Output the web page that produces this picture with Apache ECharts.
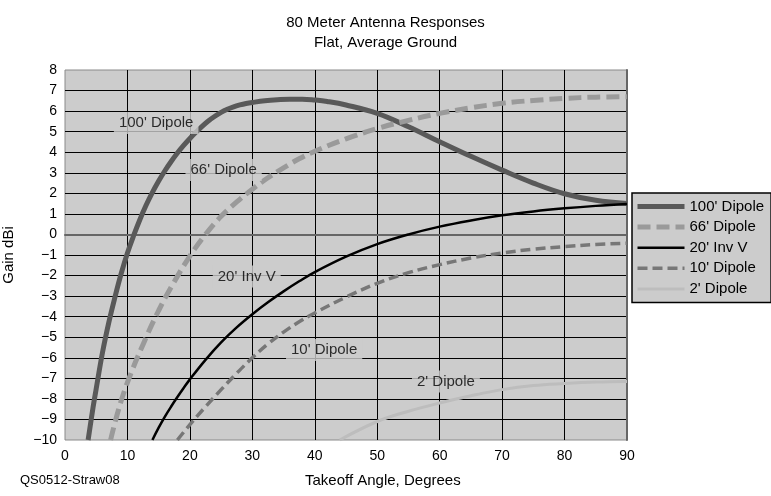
<!DOCTYPE html>
<html>
<head>
<meta charset="utf-8">
<script src="https://cdn.jsdelivr.net/npm/echarts@6/dist/echarts.min.js"></script>
<style>
  html, body { margin: 0; padding: 0; background: #ffffff; }
  #chart { width: 771px; height: 496px; }
</style>
</head>
<body>
<div id="chart"></div>
<script>
// Takeoff angle (degrees) and gain (dBi) for each antenna
const angles100 = [3.7, 4, 4.5, 5, 6, 7, 8, 9, 10, 11, 12, 13, 14, 15, 16, 17, 18, 19, 20, 21, 22, 23, 24, 25, 26, 27, 28, 29, 30, 32, 34, 36, 38, 40, 42, 45, 50, 55, 60, 65, 70, 75, 80, 85, 90];
const gain100   = [-10, -9.4, -8.4, -7.5, -5.75, -4.3, -3.05, -1.9, -0.9, -0.05, 0.73, 1.43, 2.05, 2.6, 3.1, 3.55, 3.96, 4.33, 4.67, 4.98, 5.27, 5.53, 5.75, 5.94, 6.09, 6.21, 6.3, 6.37, 6.42, 6.5, 6.55, 6.58, 6.58, 6.54, 6.47, 6.3, 5.89, 5.24, 4.51, 3.8, 3.13, 2.5, 1.98, 1.66, 1.51];

const angles66 = [7.3, 8.5, 10, 12.5, 15, 17.5, 20, 22.5, 25, 27.5, 30, 32.5, 35, 37.5, 40, 45, 50, 55, 60, 65, 70, 75, 80, 85, 90];
const gain66   = [-10, -8.6, -7.2, -5.35, -3.7, -2.3, -1.05, 0.0, 0.88, 1.58, 2.2, 2.76, 3.24, 3.68, 4.05, 4.65, 5.15, 5.55, 5.89, 6.16, 6.38, 6.52, 6.62, 6.68, 6.7];

const anglesInvV = [14, 15, 16, 17, 18, 19, 20, 22.5, 25, 27.5, 30, 32.5, 35, 37.5, 40, 45, 50, 55, 60, 65, 70, 75, 80, 85, 90];
const gainInvV   = [-10, -9.4, -8.86, -8.37, -7.91, -7.47, -7.05, -6.1, -5.25, -4.52, -3.88, -3.3, -2.77, -2.28, -1.83, -1.08, -0.47, 0.0, 0.38, 0.68, 0.93, 1.12, 1.27, 1.39, 1.48];

const angles10 = [18, 20, 22.5, 25, 27.5, 30, 32.5, 35, 37.5, 40, 45, 50, 55, 60, 65, 70, 75, 80, 85, 90];
const gain10   = [-10, -9.25, -8.38, -7.55, -6.75, -6.0, -5.33, -4.75, -4.25, -3.82, -3.05, -2.38, -1.86, -1.47, -1.15, -0.9, -0.72, -0.59, -0.49, -0.43];

const angles2 = [44, 50, 55, 60, 65, 70, 75, 80, 85, 90];
const gain2   = [-10, -9.1, -8.6, -8.2, -7.85, -7.55, -7.35, -7.25, -7.18, -7.15];

const seriesNames = ["100' Dipole", "66' Dipole", "20' Inv V", "10' Dipole", "2' Dipole"];

// Tick values for both axes
const xTicks = [0, 10, 20, 30, 40, 50, 60, 70, 80, 90];
const yTicks = [-10, -9, -8, -7, -6, -5, -4, -3, -2, -1, 0, 1, 2, 3, 4, 5, 6, 7, 8];

// Callout names drawn inside the plot, anchored in data coordinates
const calloutNames  = ["100' Dipole", "66' Dipole", "20' Inv V", "10' Dipole", "2' Dipole"];
const calloutAngles = [14.6, 25.4, 29.1, 41.5, 61.0];
const calloutGains  = [5.42, 3.14, -2.05, -5.62, -7.16];

const FONT = "'Liberation Sans', Arial, sans-serif";
const PLOT_BG = '#cccccc';

function pairs(xs, ys) {
  return xs.map((x, i) => [x, ys[i]]);
}

const styles = [
  { color: '#595959', width: 5, type: 'solid' },
  { color: '#9a9a9a', width: 5, type: [13, 6] },
  { color: '#000000', width: 2.5, type: 'solid' },
  { color: '#777777', width: 3.5, type: [10, 5] },
  { color: '#bdbdbd', width: 3, type: 'solid' }
];
const seriesData = [
  pairs(angles100, gain100),
  pairs(angles66, gain66),
  pairs(anglesInvV, gainInvV),
  pairs(angles10, gain10),
  pairs(angles2, gain2)
];

const chart = echarts.init(document.getElementById('chart'), null, { renderer: 'canvas' });

const lineSeries = seriesNames.map((name, i) => ({
  name: name,
  type: 'line',
  data: seriesData[i],
  symbol: 'none',
  smooth: 0.4,
  clip: true,
  z: 3,
  lineStyle: { color: styles[i].color, width: styles[i].width, type: styles[i].type, cap: 'butt' },
  itemStyle: { color: styles[i].color }
}));

const calloutSeries = {
  name: 'callouts',
  type: 'scatter',
  silent: true,
  symbolSize: 0,
  z: 5,
  data: calloutNames.map((n, i) => ({ name: n, value: [calloutAngles[i], calloutGains[i]] })),
  label: {
    show: true,
    position: 'inside',
    formatter: '{b}',
    fontFamily: FONT,
    fontSize: 15,
    color: '#000000',
    backgroundColor: PLOT_BG,
    padding: [3, 5],
    lineHeight: 16
  }
};

chart.setOption({
  animation: false,
  backgroundColor: '#ffffff',
  textStyle: { fontFamily: FONT },
  title: {
    text: '80 Meter Antenna Responses\nFlat, Average Ground',
    left: 'center',
    top: 8,
    textStyle: { fontFamily: FONT, fontSize: 15, fontWeight: 'normal', color: '#000', lineHeight: 20 }
  },
  grid: {
    left: 65, right: 144, top: 70, bottom: 56,
    outerBoundsMode: 'none',
    containLabel: false,
    show: true,
    backgroundColor: PLOT_BG,
    borderColor: '#8a8a8a',
    borderWidth: 1
  },
  legend: {
    data: seriesNames.map((n, i) => ({
      name: n,
      lineStyle: { width: styles[i].width, type: styles[i].type, color: styles[i].color, cap: 'butt' }
    })),
    orient: 'vertical',
    left: 632,
    top: 193,
    itemWidth: 47,
    itemHeight: 14,
    itemGap: 5.6,
    padding: [6, 7, 6, 3],
    backgroundColor: PLOT_BG,
    borderColor: '#000000',
    borderWidth: 1.5,
    borderRadius: 0,
    selectedMode: false,
    itemStyle: { opacity: 0 },
    textStyle: { fontFamily: FONT, fontSize: 15, color: '#000' }
  },
  xAxis: {
    type: 'value',
    min: xTicks[0],
    max: xTicks[xTicks.length - 1],
    interval: xTicks[1] - xTicks[0],
    axisLine: { show: true, lineStyle: { color: '#666666', width: 2 } },
    axisTick: { show: false },
    axisLabel: { fontFamily: FONT, fontSize: 14, color: '#000', margin: 9 },
    splitLine: { show: true, showMinLine: false, showMaxLine: false, lineStyle: { color: '#000000', width: 1 } }
  },
  yAxis: [
    {
      type: 'value',
      min: yTicks[0],
      max: yTicks[yTicks.length - 1],
      interval: 1,
      name: 'Gain dBi',
      nameLocation: 'middle',
      nameGap: 49,
      nameTextStyle: { fontFamily: FONT, fontSize: 15, color: '#000' },
      axisLine: { show: false },
      axisTick: { show: false },
      axisLabel: {
        fontFamily: FONT, fontSize: 14, color: '#000', margin: 8,
        formatter: v => String(v).replace('-', '\u2212')
      },
      splitLine: { show: true, showMinLine: false, showMaxLine: false, lineStyle: { color: '#000000', width: 1 } }
    },
    {
      type: 'value',
      position: 'right',
      min: yTicks[0],
      max: yTicks[yTicks.length - 1],
      interval: 1,
      axisLine: { show: true, lineStyle: { color: '#666666', width: 2 } },
      axisTick: { show: false },
      axisLabel: { show: false },
      splitLine: { show: false }
    }
  ],
  graphic: [
    {
      type: 'text',
      left: 389 - 84,
      top: 473,
      style: { text: 'Takeoff Angle, Degrees', fontFamily: FONT, fontSize: 15, fill: '#000' }
    },
    {
      type: 'text',
      left: 20,
      top: 474,
      style: { text: 'QS0512-Straw08', fontFamily: FONT, fontSize: 13, fill: '#000' }
    }
  ],
  series: lineSeries.concat([calloutSeries])
});
</script>
</body>
</html>
